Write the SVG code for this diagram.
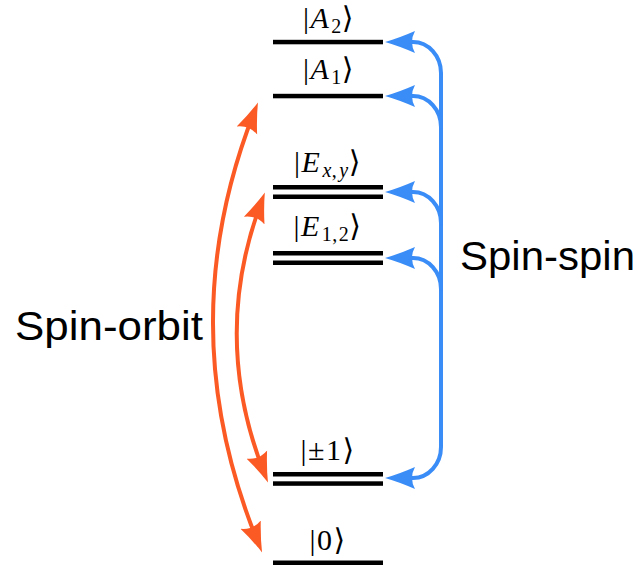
<svg xmlns="http://www.w3.org/2000/svg" width="639" height="565" viewBox="0 0 639 565">
<style>
.lvl{fill:#000}
.lbl{font-family:"Liberation Serif","DejaVu Serif",serif;font-size:30px;fill:#000;text-anchor:middle;letter-spacing:1.5px}
.it{font-style:italic}
.sub{font-size:20px;letter-spacing:0.5px}
.big{font-family:"Liberation Sans",Arial,sans-serif;font-size:41px;fill:#000}
.blue{fill:none;stroke:#3A8CF7;stroke-width:4;stroke-linecap:round}
.orange{fill:none;stroke:#FC5A24;stroke-width:4;stroke-linecap:round}
</style>
<defs>
<marker id="ab" viewBox="0 -12 31 24" markerWidth="31" markerHeight="24" refX="22" refY="0" markerUnits="userSpaceOnUse" orient="auto-start-reverse">
<path d="M30 0 Q16 -4 0 -11 Q6 0 0 11 Q16 4 30 0 Z" fill="#3A8CF7"/>
</marker>
<marker id="ao" viewBox="0 -12 31 24" markerWidth="31" markerHeight="24" refX="22" refY="0" markerUnits="userSpaceOnUse" orient="auto-start-reverse">
<path d="M30 0 Q16 -4 0 -11 Q6 0 0 11 Q16 4 30 0 Z" fill="#FC5A24"/>
</marker>
</defs>
<g id="A2">
<rect class="lvl" x="273" y="39.8" width="110" height="4.5"/>
<text class="lbl" x="329" y="28">|<tspan class="it">A</tspan><tspan class="sub" dx="1" dy="5">2</tspan><tspan dy="-5">⟩</tspan></text>
</g>
<g id="A1">
<rect class="lvl" x="273" y="93.8" width="110" height="4.5"/>
<text class="lbl" x="329" y="79">|<tspan class="it">A</tspan><tspan class="sub" dx="1" dy="5">1</tspan><tspan dy="-5">⟩</tspan></text>
</g>
<g id="Exy">
<rect class="lvl" x="273" y="185" width="110" height="4.5"/>
<rect class="lvl" x="273" y="194.5" width="110" height="4.5"/>
<text class="lbl" x="328" y="172">|<tspan class="it">E</tspan><tspan class="sub" dx="1" dy="5"><tspan class="it">x</tspan>,<tspan class="it" dx="2">y</tspan></tspan><tspan dy="-5">⟩</tspan></text>
</g>
<g id="E12">
<rect class="lvl" x="273" y="251" width="110" height="4.5"/>
<rect class="lvl" x="273" y="260.5" width="110" height="4.5"/>
<text class="lbl" x="328" y="236">|<tspan class="it">E</tspan><tspan class="sub" dx="1" dy="5">1,<tspan dx="1">2</tspan></tspan><tspan dy="-5">⟩</tspan></text>
</g>
<g id="pm1">
<rect class="lvl" x="273" y="472" width="110" height="4.5"/>
<rect class="lvl" x="273" y="481.3" width="110" height="4.5"/>
<text class="lbl" x="328" y="460">|±1⟩</text>
</g>
<g id="zero">
<rect class="lvl" x="273" y="560.5" width="110" height="4.5"/>
<text class="lbl" x="328" y="550">|0⟩</text>
</g>
<g id="connectors">
<path class="blue" d="M393 42 L413 42 C428.5 42 441 56 441 73 L441 447 C441 464 428.5 478 413 478 L393 478" marker-start="url(#ab)" marker-end="url(#ab)"/>
<path class="blue" d="M441 127 C441 110 428.5 96 413 96 L393 96" marker-end="url(#ab)"/>
<path class="blue" d="M441 223 C441 206 428.5 192 413 192 L393 192" marker-end="url(#ab)"/>
<path class="blue" d="M441 289 C441 272 428.5 258 413 258 L393 258" marker-end="url(#ab)"/>
<path class="orange" d="M255 110 Q169 327 259 545" marker-start="url(#ao)" marker-end="url(#ao)"/>
<path class="orange" d="M262 200 Q210 337 265 475" marker-start="url(#ao)" marker-end="url(#ao)"/>
</g>
<g id="labels">
<text class="big" x="15" y="340" textLength="188" lengthAdjust="spacingAndGlyphs">Spin-orbit</text>
<text class="big" x="460" y="270" textLength="175" lengthAdjust="spacingAndGlyphs">Spin-spin</text>
</g>
</svg>
